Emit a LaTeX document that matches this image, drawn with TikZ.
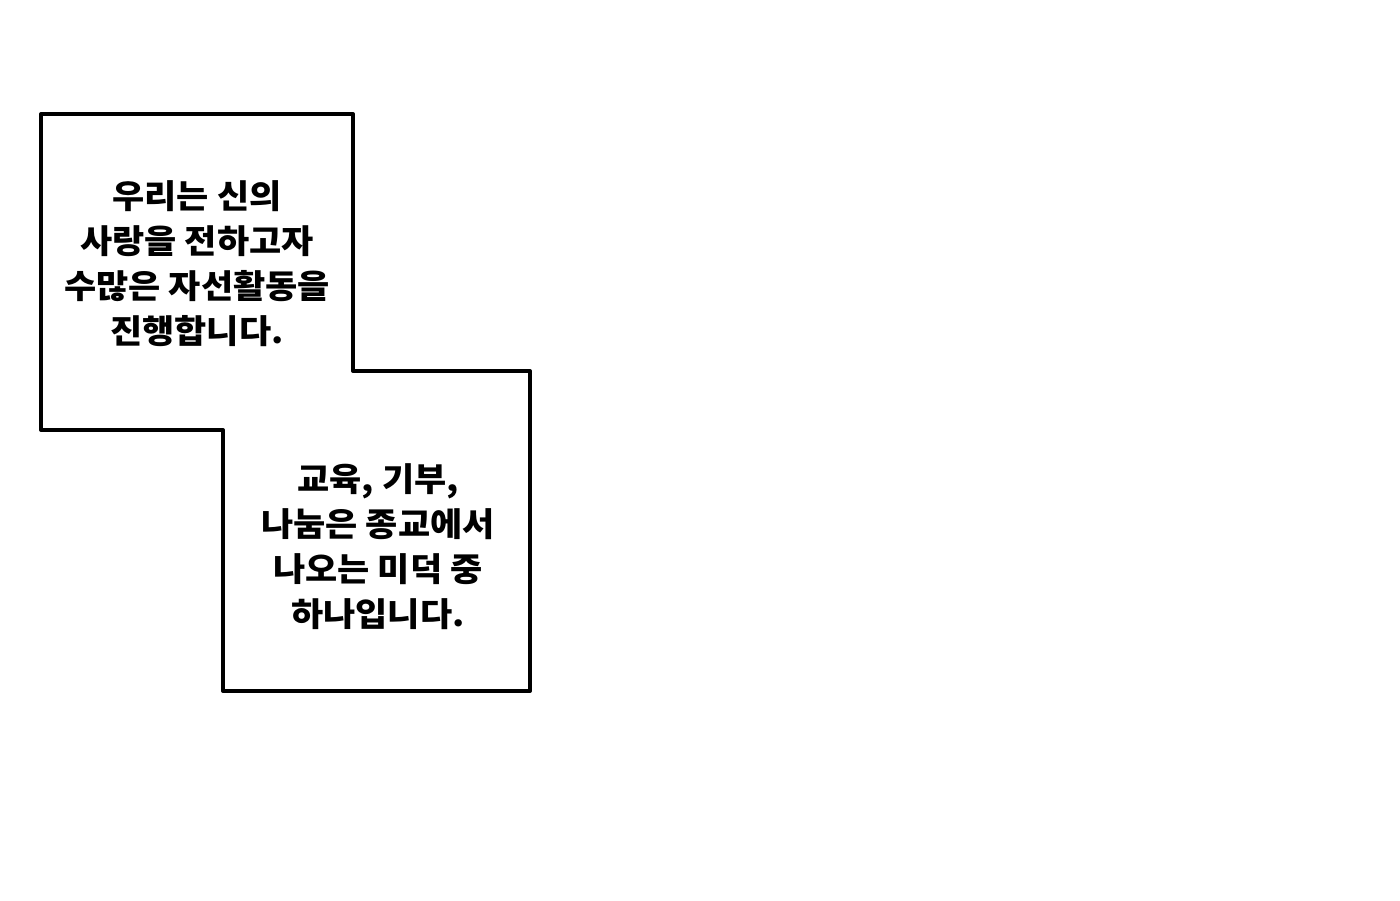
\documentclass[tikz,border=0pt]{standalone}
\usepackage{fontspec}
\newfontfamily\kr{Noto Sans CJK KR}[FakeStretch=1.06]
\begin{document}
\begin{tikzpicture}[x=1pt,y=-1pt,
  panel/.style={draw=black,line width=4pt,line join=round},
  caption/.style={font=\kr\bfseries\fontsize{33}{45}\selectfont,align=center,inner sep=0pt,text=black}]
\useasboundingbox[fill=white] (0,0) rectangle (1400,900);
\draw[panel] (41,114) -- (353,114) -- (353,371) -- (530,371) -- (530,691)
  -- (223,691) -- (223,430) -- (41,430) -- cycle;
\node[caption] (t1) at (197,264) {우리는 신의\\사랑을 전하고자\\수많은 자선활동을\\진행합니다.};
\node[caption] (t2) at (378,547) {교육, 기부,\\나눔은 종교에서\\나오는 미덕 중\\하나입니다.};
\end{tikzpicture}
\end{document}
